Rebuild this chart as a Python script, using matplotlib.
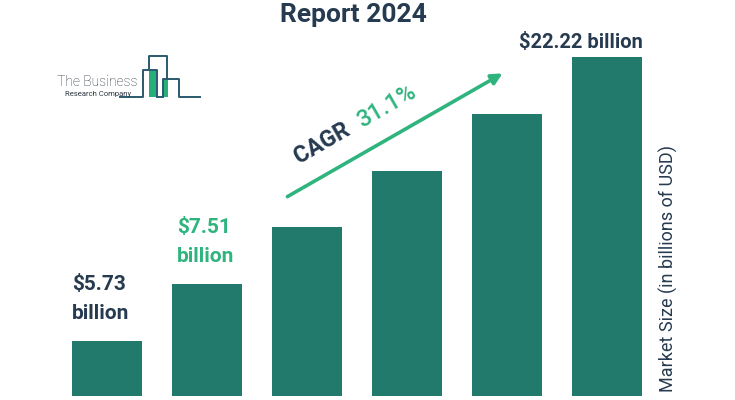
import matplotlib
matplotlib.use("Agg")
import matplotlib.pyplot as plt
from matplotlib.lines import Line2D
from matplotlib.patches import Rectangle, FancyArrowPatch

years = ["2023", "2024", "2025", "2026", "2027", "2028"]
values = [5.73, 7.51, 9.85, 12.91, 16.93, 22.22]
title_text = "Report 2024"
ylabel_text = "Market Size (in billions of USD)"
cagr_label = "CAGR"
cagr_value = "31.1%"

BAR = "#217a6b"
NAVY = "#263a50"
GREEN = "#2fb47e"
FONT = ["Roboto", "DejaVu Sans"]

W, H = 735, 400
fig = plt.figure(figsize=(W / 100, H / 100), dpi=100)
fig.patch.set_facecolor("white")


def fx(x):
    return x / W


def fy(y):
    return 1 - y / H


ax = fig.add_axes([0, 4 / H, 1, 396 / H])
ax.set_yscale("log")
ax.set_ylim(4.412, 29.13)
ax.set_xlim(-1.07, 6.28)
ax.bar(range(len(values)), values, width=0.7, color=BAR, bottom=0.0001)
ax.set_axis_off()

# Title (cut off at the top)
fig.text(fx(353), fy(22), title_text, ha="center", va="baseline",
         fontsize=19, fontweight="bold", color=NAVY, family=FONT)

# Value labels
fig.text(fx(72), fy(290), "$" + f"{values[0]:.2f}", ha="left", va="baseline",
         fontsize=15, fontweight="bold", color=NAVY, family=FONT)
fig.text(fx(72), fy(319), "billion", ha="left", va="baseline",
         fontsize=15, fontweight="bold", color=NAVY, family=FONT)
fig.text(fx(177), fy(233), "$" + f"{values[1]:.2f}", ha="left", va="baseline",
         fontsize=15, fontweight="bold", color=GREEN, family=FONT)
fig.text(fx(177), fy(262), "billion", ha="left", va="baseline",
         fontsize=15, fontweight="bold", color=GREEN, family=FONT)
fig.text(fx(581), fy(48), "$" + f"{values[-1]:.2f} billion", ha="center", va="baseline",
         fontsize=14.5, fontweight="bold", color=NAVY, family=FONT)

# Y label on the right
fig.text(fx(668), fy(268), ylabel_text, rotation=90, ha="center", va="center",
         fontsize=13, color=NAVY, family=FONT)

# CAGR arrow
arrow = FancyArrowPatch((fx(285), fy(198)), (fx(505), fy(72)),
                        transform=fig.transFigure, arrowstyle="-|>",
                        mutation_scale=16, lw=2.6, color=GREEN)
fig.patches.append(arrow)
fig.text(fx(299), fy(164), cagr_label, rotation=30, rotation_mode="anchor",
         ha="left", va="baseline", fontsize=16.5, fontweight="bold",
         color=NAVY, family=FONT)
fig.text(fx(362), fy(128), cagr_value, rotation=30, rotation_mode="anchor",
         ha="left", va="baseline", fontsize=17, fontweight="medium",
         color=GREEN, family=FONT)

# Logo
LOGO = "#2a5a6e"
fig.text(fx(57), fy(86), "The Business", ha="left", va="baseline",
         fontsize=10, fontweight="light", color="#2b3440", family=FONT)
fig.text(fx(65), fy(96), "Research Company", ha="left", va="baseline",
         fontsize=5.5, color="#2b3440", family=FONT)
fig.patches.append(Rectangle((fx(149), fy(97)), fx(7), 27 / H,
                             transform=fig.transFigure, color="#25b07a", lw=0))
fig.patches.append(Rectangle((fx(163), fy(97)), fx(5), 18 / H,
                             transform=fig.transFigure, color="#25b07a", lw=0))
path_x = [120, 143, 143, 157, 157]
path_y = [97, 97, 70, 70, 97]
fig.lines.append(Line2D([fx(v) for v in path_x], [fy(v) for v in path_y],
                        transform=fig.transFigure, color=LOGO, lw=1.4))
path_x = [149, 149, 167, 167]
path_y = [70, 56, 56, 79]
fig.lines.append(Line2D([fx(v) for v in path_x], [fy(v) for v in path_y],
                        transform=fig.transFigure, color=LOGO, lw=1.4))
path_x = [163, 163, 179, 179, 200]
path_y = [97, 79, 79, 97, 97]
fig.lines.append(Line2D([fx(v) for v in path_x], [fy(v) for v in path_y],
                        transform=fig.transFigure, color=LOGO, lw=1.4))
fig.lines.append(Line2D([fx(157), fx(163)], [fy(97), fy(97)],
                        transform=fig.transFigure, color=LOGO, lw=1.4))

fig.savefig("out.png", dpi=100, facecolor="white")
